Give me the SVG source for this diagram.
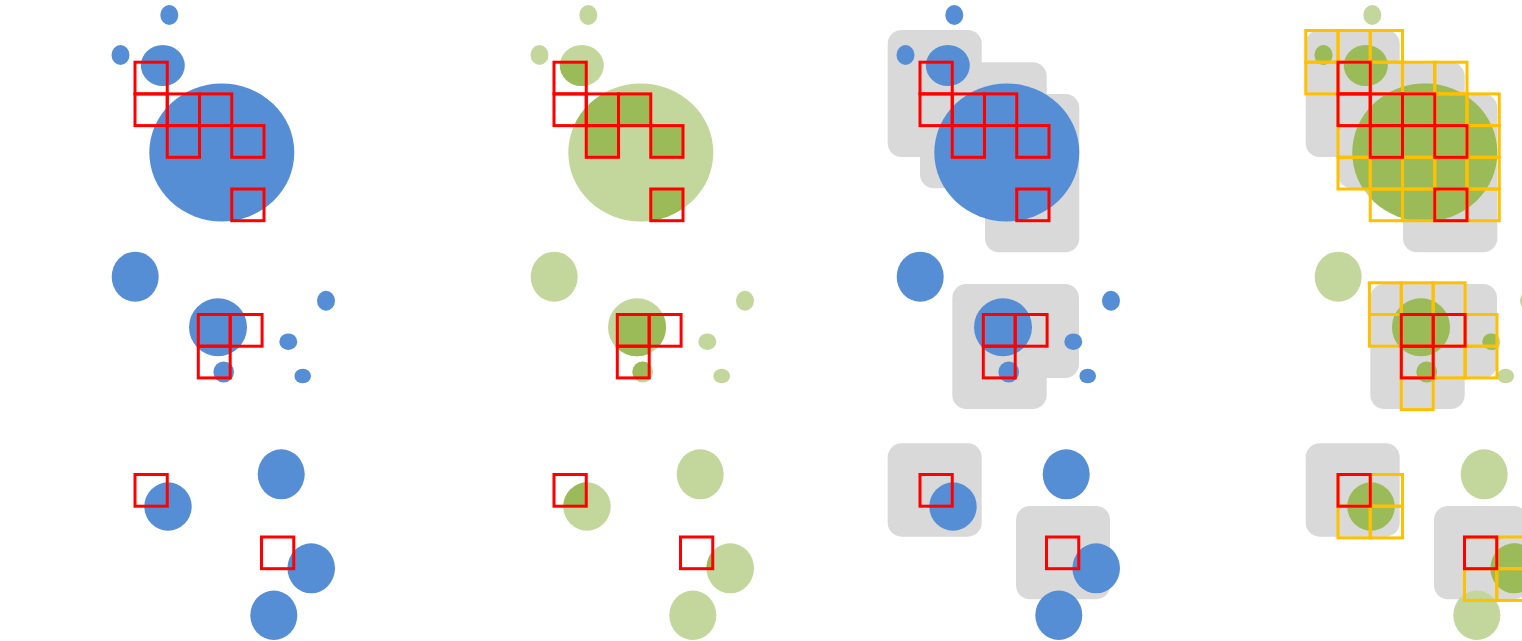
<svg xmlns="http://www.w3.org/2000/svg" width="1522" height="641" viewBox="0 0 1522 641">
<style>
.blue{fill:#558ED5}
.lgreen{fill:#C3D69B}
.dgreen{fill:#9BBB59}
.gray{fill:#D9D9D9}
.red{fill:none;stroke:#FF0000;stroke-width:3}
.yel{fill:none;stroke:#FFC000;stroke-width:3}
</style>
<defs>
<g id="circles">
<ellipse cx="169.3" cy="15" rx="9" ry="10"/>
<ellipse cx="120.5" cy="55" rx="9" ry="10"/>
<ellipse cx="162.8" cy="65.5" rx="22" ry="20.5"/>
<ellipse cx="221.8" cy="152.5" rx="72.5" ry="69"/>
<ellipse cx="135.2" cy="276.7" rx="23.5" ry="25"/>
<ellipse cx="218" cy="327.2" rx="29" ry="29"/>
<ellipse cx="326" cy="300.7" rx="9" ry="10"/>
<ellipse cx="288.3" cy="341.7" rx="9" ry="8.3"/>
<ellipse cx="302.7" cy="376" rx="8.3" ry="7.3"/>
<ellipse cx="223.7" cy="372" rx="10.3" ry="10.5"/>
<ellipse cx="168" cy="506.5" rx="23.7" ry="24.2"/>
<ellipse cx="281.2" cy="474.3" rx="23.5" ry="25"/>
<ellipse cx="311.2" cy="568.3" rx="23.8" ry="25"/>
<ellipse cx="273.8" cy="615.3" rx="23.5" ry="24.7"/>
</g>
<g id="circlesNoD">
<ellipse cx="120.5" cy="55" rx="9" ry="10"/>
<ellipse cx="162.8" cy="65.5" rx="22" ry="20.5"/>
<ellipse cx="221.8" cy="152.5" rx="72.5" ry="69"/>
<ellipse cx="218" cy="327.2" rx="29" ry="29"/>
<ellipse cx="288.3" cy="341.7" rx="9" ry="8.3"/>
<ellipse cx="223.7" cy="372" rx="10.3" ry="10.5"/>
<ellipse cx="168" cy="506.5" rx="23.7" ry="24.2"/>
<ellipse cx="311.2" cy="568.3" rx="23.8" ry="25"/>
</g>
<g id="redSq">
<rect x="135" y="62.2" width="32.25" height="31.7"/>
<rect x="135" y="93.9" width="32.25" height="31.7"/>
<rect x="167.25" y="93.9" width="32.25" height="31.7"/>
<rect x="199.5" y="93.9" width="32.25" height="31.7"/>
<rect x="167.25" y="125.6" width="32.25" height="31.7"/>
<rect x="231.75" y="125.6" width="32.25" height="31.7"/>
<rect x="231.75" y="189" width="32.25" height="31.7"/>
<rect x="198.3" y="314.5" width="31.9" height="31.7"/>
<rect x="230.2" y="314.5" width="31.9" height="31.7"/>
<rect x="198.3" y="346.2" width="31.9" height="31.7"/>
<rect x="135" y="474.5" width="32.25" height="31.7"/>
<rect x="261.5" y="537" width="32.25" height="31.7"/>
</g>
<g id="yelSq">
<rect x="102.75" y="30.5" width="32.25" height="31.7"/>
<rect x="135" y="30.5" width="32.25" height="31.7"/>
<rect x="167.25" y="30.5" width="32.25" height="31.7"/>
<rect x="102.75" y="62.2" width="32.25" height="31.7"/>
<rect x="135" y="62.2" width="32.25" height="31.7"/>
<rect x="167.25" y="62.2" width="32.25" height="31.7"/>
<rect x="199.5" y="62.2" width="32.25" height="31.7"/>
<rect x="231.75" y="62.2" width="32.25" height="31.7"/>
<rect x="135" y="93.9" width="32.25" height="31.7"/>
<rect x="167.25" y="93.9" width="32.25" height="31.7"/>
<rect x="199.5" y="93.9" width="32.25" height="31.7"/>
<rect x="231.75" y="93.9" width="32.25" height="31.7"/>
<rect x="264" y="93.9" width="32.25" height="31.7"/>
<rect x="135" y="125.6" width="32.25" height="31.7"/>
<rect x="167.25" y="125.6" width="32.25" height="31.7"/>
<rect x="199.5" y="125.6" width="32.25" height="31.7"/>
<rect x="231.75" y="125.6" width="32.25" height="31.7"/>
<rect x="264" y="125.6" width="32.25" height="31.7"/>
<rect x="135" y="157.3" width="32.25" height="31.7"/>
<rect x="167.25" y="157.3" width="32.25" height="31.7"/>
<rect x="199.5" y="157.3" width="32.25" height="31.7"/>
<rect x="231.75" y="157.3" width="32.25" height="31.7"/>
<rect x="264" y="157.3" width="32.25" height="31.7"/>
<rect x="167.25" y="189" width="32.25" height="31.7"/>
<rect x="199.5" y="189" width="32.25" height="31.7"/>
<rect x="231.75" y="189" width="32.25" height="31.7"/>
<rect x="264" y="189" width="32.25" height="31.7"/>
<rect x="166.4" y="282.8" width="31.9" height="31.7"/>
<rect x="198.3" y="282.8" width="31.9" height="31.7"/>
<rect x="230.2" y="282.8" width="31.9" height="31.7"/>
<rect x="166.4" y="314.5" width="31.9" height="31.7"/>
<rect x="198.3" y="314.5" width="31.9" height="31.7"/>
<rect x="230.2" y="314.5" width="31.9" height="31.7"/>
<rect x="262.1" y="314.5" width="31.9" height="31.7"/>
<rect x="198.3" y="346.2" width="31.9" height="31.7"/>
<rect x="230.2" y="346.2" width="31.9" height="31.7"/>
<rect x="262.1" y="346.2" width="31.9" height="31.7"/>
<rect x="198.3" y="377.9" width="31.9" height="31.7"/>
<rect x="135" y="474.5" width="32.25" height="31.7"/>
<rect x="167.25" y="474.5" width="32.25" height="31.7"/>
<rect x="135" y="506.2" width="32.25" height="31.7"/>
<rect x="167.25" y="506.2" width="32.25" height="31.7"/>
<rect x="261.5" y="537" width="32.25" height="31.7"/>
<rect x="293.75" y="537" width="32.25" height="31.7"/>
<rect x="261.5" y="568.7" width="32.25" height="31.7"/>
<rect x="293.75" y="568.7" width="32.25" height="31.7"/>
</g>
<g id="grayRects">
<rect x="102.7" y="30" width="94" height="127" rx="14"/>
<rect x="135" y="62.3" width="126.7" height="126" rx="14"/>
<rect x="200" y="94" width="94.3" height="158.3" rx="14"/>
<rect x="167.3" y="284" width="94.4" height="125" rx="14"/>
<rect x="200" y="284" width="94" height="94" rx="14"/>
<rect x="102.7" y="443.3" width="94" height="93.4" rx="14"/>
<rect x="231" y="506" width="94" height="93.3" rx="14"/>
</g>
<clipPath id="clipRed">
<rect x="135" y="62.2" width="32.25" height="31.7"/>
<rect x="135" y="93.9" width="32.25" height="31.7"/>
<rect x="167.25" y="93.9" width="32.25" height="31.7"/>
<rect x="199.5" y="93.9" width="32.25" height="31.7"/>
<rect x="167.25" y="125.6" width="32.25" height="31.7"/>
<rect x="231.75" y="125.6" width="32.25" height="31.7"/>
<rect x="231.75" y="189" width="32.25" height="31.7"/>
<rect x="198.3" y="314.5" width="31.9" height="31.7"/>
<rect x="230.2" y="314.5" width="31.9" height="31.7"/>
<rect x="198.3" y="346.2" width="31.9" height="31.7"/>
<rect x="135" y="474.5" width="32.25" height="31.7"/>
<rect x="261.5" y="537" width="32.25" height="31.7"/>
</clipPath>
<clipPath id="clipYel">
<rect x="102.75" y="30.5" width="96.75" height="31.7"/>
<rect x="102.75" y="62.2" width="161.25" height="31.7"/>
<rect x="135" y="93.9" width="161.25" height="95.1"/>
<rect x="167.25" y="189" width="129" height="31.7"/>
<rect x="166.4" y="282.8" width="95.7" height="31.7"/>
<rect x="166.4" y="314.5" width="127.6" height="31.7"/>
<rect x="198.3" y="346.2" width="95.7" height="31.7"/>
<rect x="198.3" y="377.9" width="31.9" height="31.7"/>
<rect x="135" y="474.5" width="64.5" height="63.4"/>
<rect x="261.5" y="537" width="64.5" height="63.4"/>
</clipPath>
</defs>

<g id="panel-1">
<use href="#circles" class="blue"/>
<use href="#redSq" class="red"/>
</g>

<g id="panel-2" transform="translate(419,0)">
<use href="#circles" class="lgreen"/>
<use href="#circlesNoD" class="dgreen" clip-path="url(#clipRed)"/>
<use href="#redSq" class="red"/>
</g>

<g id="panel-3" transform="translate(785,0)">
<use href="#grayRects" class="gray"/>
<use href="#circles" class="blue"/>
<use href="#redSq" class="red"/>
</g>

<g id="panel-4" transform="translate(1203,0)">
<use href="#grayRects" class="gray"/>
<use href="#circles" class="lgreen"/>
<use href="#circlesNoD" class="dgreen" clip-path="url(#clipYel)"/>
<use href="#yelSq" class="yel"/>
<use href="#redSq" class="red"/>
</g>
</svg>
